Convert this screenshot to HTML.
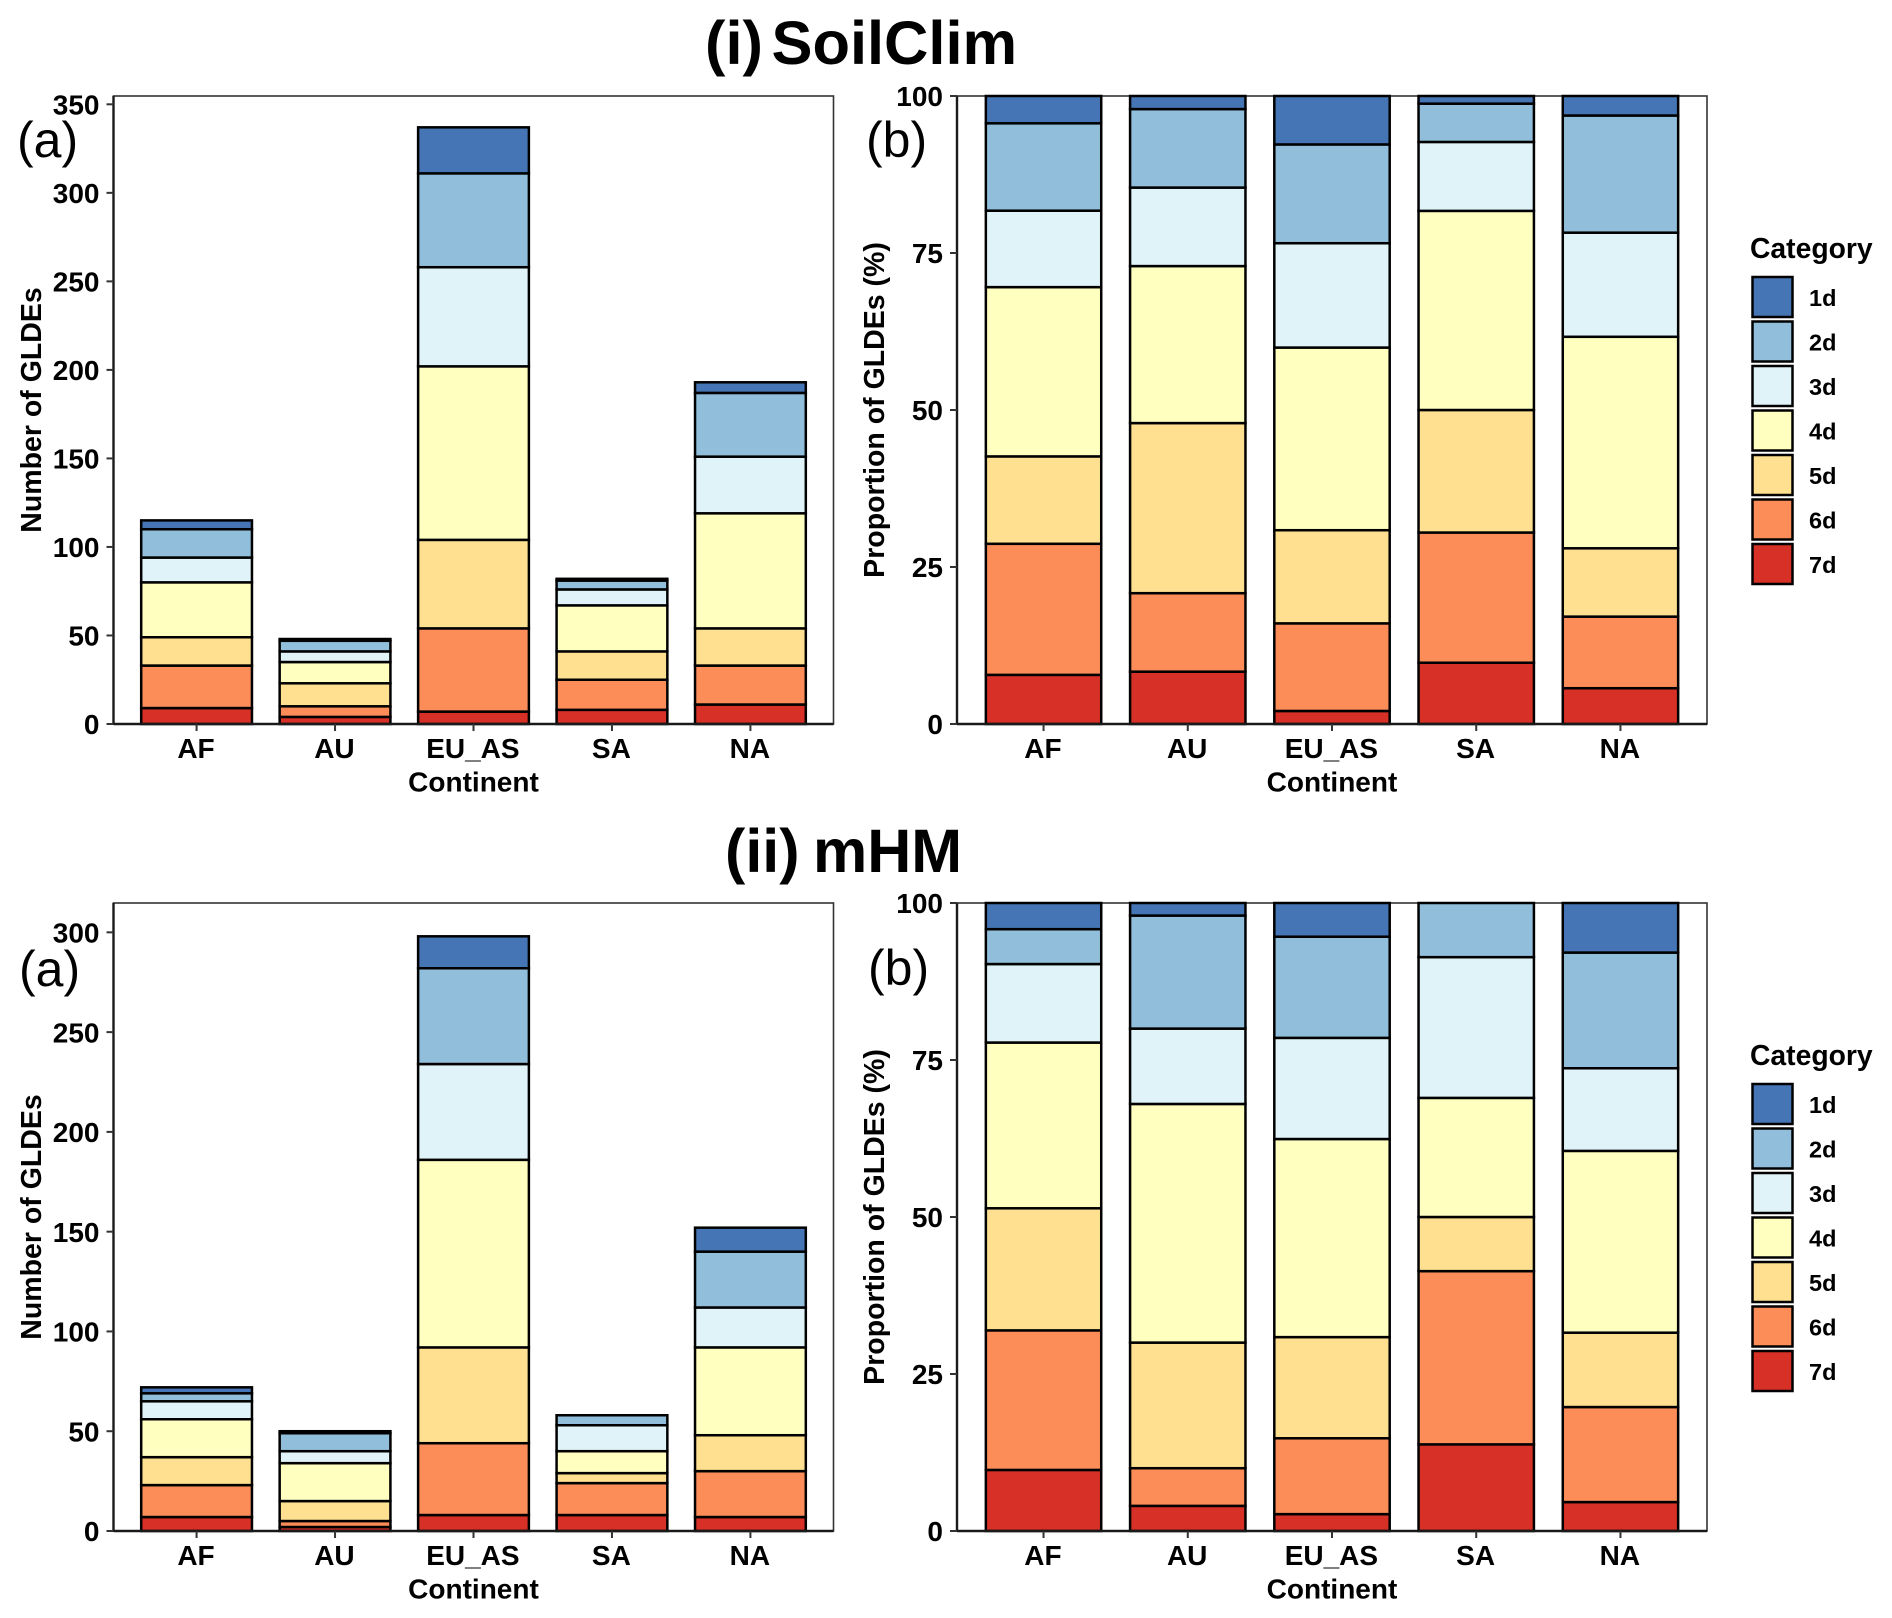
<!DOCTYPE html>
<html lang="en">
<head>
<meta charset="utf-8">
<title>GLDE counts and proportions by continent: SoilClim and mHM</title>
<style>
  html, body { margin: 0; padding: 0; background: #fff; }
  svg { display: block; }
  text { font-family: "Liberation Sans", Arial, sans-serif; fill: #000; }
</style>
</head>
<body>
<svg id="figure" xmlns="http://www.w3.org/2000/svg" width="1892" height="1618" viewBox="0 0 1892 1618">
  <rect x="0" y="0" width="1892" height="1618" fill="#fff"/>
  <text y="64" font-size="61.4" font-weight="700"><tspan x="705">(i)</tspan><tspan x="771.5">SoilClim</tspan></text>
  <text y="872" font-size="61" font-weight="700"><tspan x="725">(ii)</tspan><tspan x="813">mHM</tspan></text>
</svg>
<script>
// ---- Data ----
const continents = ['AF', 'AU', 'EU_AS', 'SA', 'NA'];
const categoryLabels = ['1d', '2d', '3d', '4d', '5d', '6d', '7d'];

// SoilClim counts per continent (AF, AU, EU_AS, SA, NA)
const soil1d = [5, 1, 26, 1, 6];
const soil2d = [16, 6, 53, 5, 36];
const soil3d = [14, 6, 56, 9, 32];
const soil4d = [31, 12, 98, 26, 65];
const soil5d = [16, 13, 50, 16, 21];
const soil6d = [24, 6, 47, 17, 22];
const soil7d = [9, 4, 7, 8, 11];

// mHM counts per continent (AF, AU, EU_AS, SA, NA)
const mhm1d = [3, 1, 16, 0, 12];
const mhm2d = [4, 9, 48, 5, 28];
const mhm3d = [9, 6, 48, 13, 20];
const mhm4d = [19, 19, 94, 11, 44];
const mhm5d = [14, 10, 48, 5, 18];
const mhm6d = [16, 3, 36, 16, 23];
const mhm7d = [7, 2, 8, 8, 7];

const soilCountTicks = [0, 50, 100, 150, 200, 250, 300, 350];
const mhmCountTicks = [0, 50, 100, 150, 200, 250, 300];
const percentTicks = [0, 25, 50, 75, 100];

// ---- Styling ----
const palette = ['#4575b4', '#91bfdb', '#e0f3f8', '#ffffbf', '#fee090', '#fc8d59', '#d73027'];
const NS = 'http://www.w3.org/2000/svg';
const figure = document.getElementById('figure');

function make(parent, tag, attrs, content) {
  const el = document.createElementNS(NS, tag);
  for (const k in attrs) el.setAttribute(k, attrs[k]);
  if (content !== undefined) el.textContent = content;
  parent.appendChild(el);
  return el;
}

function drawPanel(cfg) {
  const g = make(figure, 'g', {});
  
  

  const width = cfg.right - cfg.left;
  const xUnits = continents.length - 1 + 1.2;
  const xCenter = function (i) { return cfg.left + (i + 0.6) / xUnits * width; };
  const bandWidth = 0.8 / xUnits * width;
  const yPos = function (v) { return cfg.bottom - v / cfg.domainMax * (cfg.bottom - cfg.top); };

  const frame = make(g, 'rect', { x: cfg.left, y: cfg.top, width: width, height: cfg.bottom - cfg.top, fill: '#fff', stroke: '#333', 'stroke-width': 1.6 });
  
  

  continents.forEach(function (continent, i) {
    let total = 0;
    cfg.series.forEach(function (s) { total += s[i]; });
    const factor = cfg.percent ? 100 / total : 1;
    let running = 0;
    for (let c = cfg.series.length - 1; c >= 0; c--) {
      const value = cfg.series[c][i] * factor;
      if (value <= 0) continue;
      const y1 = yPos(running + value);
      const y0 = yPos(running);
      const bar = make(g, 'rect', {
        x: xCenter(i) - bandWidth / 2, y: y1, width: bandWidth, height: y0 - y1,
        fill: palette[c], stroke: '#000', 'stroke-width': 2.5
      });
      
      
      running += value;
    }
  });

  const yAxisLine = make(g, 'line', { x1: cfg.left, x2: cfg.left, y1: cfg.top, y2: cfg.bottom + 1, stroke: '#1a1a1a', 'stroke-width': 2.4 });
  
  

  const xAxisLine = make(g, 'line', { x1: cfg.left, x2: cfg.right, y1: cfg.bottom, y2: cfg.bottom, stroke: '#1a1a1a', 'stroke-width': 2.4 });
  
  

  cfg.ticks.forEach(function (t) {
    const y = yPos(t);
    const tick = make(g, 'line', { x1: cfg.left - 7, x2: cfg.left, y1: y, y2: y, stroke: '#333', 'stroke-width': 2 });
    
    
    const label = make(g, 'text', { x: cfg.left - 14, y: y + 10.2, 'font-size': 28, 'font-weight': 700, 'text-anchor': 'end' }, String(t));
    
    
  });

  continents.forEach(function (continent, i) {
    const x = xCenter(i);
    const tick = make(g, 'line', { x1: x, x2: x, y1: cfg.bottom, y2: cfg.bottom + 7, stroke: '#333', 'stroke-width': 2 });
    
    
    const label = make(g, 'text', { x: x - 0.6, y: cfg.bottom + 34, 'font-size': 28, 'font-weight': 700, 'text-anchor': 'middle' }, continent);
    
    
  });

  const xTitle = make(g, 'text', { x: (cfg.left + cfg.right) / 2, y: cfg.bottom + 67.5, 'font-size': 28, 'font-weight': 700, 'text-anchor': 'middle' }, 'Continent');
  
  

  const cy = (cfg.top + cfg.bottom) / 2 + cfg.titleShift;
  const yTitle = make(g, 'text', { x: 0, y: 0, transform: 'translate(' + cfg.titleX + ',' + cy + ') rotate(-90)', 'font-size': 28.5, 'font-weight': 700, 'text-anchor': 'middle' }, cfg.yTitle);
  
  

  const tag = make(g, 'text', { x: cfg.tagX, y: cfg.tagY, 'font-size': 50 }, cfg.tag);
  
  
}

function drawLegend(name, offsetY) {
  const g = make(figure, 'g', {});
  
  

  const title = make(g, 'text', { x: 1750, y: 258 + offsetY, 'font-size': 28.3, 'font-weight': 700 }, 'Category');
  
  

  categoryLabels.forEach(function (label, i) {
    const keyTop = 277 + offsetY + i * 44.5;
    const key = make(g, 'rect', { x: 1752.5, y: keyTop, width: 40, height: 40, fill: palette[i], stroke: '#000', 'stroke-width': 2.5 });
    
    
    const text = make(g, 'text', { x: 1809, y: keyTop + 29, 'font-size': 23.5, 'font-weight': 700 }, label);
    
    
  });
}

const soilSeries = [soil1d, soil2d, soil3d, soil4d, soil5d, soil6d, soil7d];
const mhmSeries = [mhm1d, mhm2d, mhm3d, mhm4d, mhm5d, mhm6d, mhm7d];

drawPanel({ name: 'soilclim-count-panel', left: 113.5, right: 833.5, top: 96, bottom: 724, domainMax: 354.7, percent: false, series: soilSeries, ticks: soilCountTicks, yTitle: 'Number of GLDEs', titleX: 41, titleShift: 0, tag: '(a)', tagX: 17, tagY: 157 });
drawPanel({ name: 'soilclim-proportion-panel', left: 957, right: 1707, top: 96, bottom: 724, domainMax: 100, percent: true, series: soilSeries, ticks: percentTicks, yTitle: 'Proportion of GLDEs (%)', titleX: 884, titleShift: 0, tag: '(b)', tagX: 866, tagY: 157 });
drawPanel({ name: 'mhm-count-panel', left: 113.5, right: 833.5, top: 903, bottom: 1531, domainMax: 314.7, percent: false, series: mhmSeries, ticks: mhmCountTicks, yTitle: 'Number of GLDEs', titleX: 41, titleShift: 0, tag: '(a)', tagX: 19, tagY: 986 });
drawPanel({ name: 'mhm-proportion-panel', left: 957, right: 1707, top: 903, bottom: 1531, domainMax: 100, percent: true, series: mhmSeries, ticks: percentTicks, yTitle: 'Proportion of GLDEs (%)', titleX: 884, titleShift: 0, tag: '(b)', tagX: 868, tagY: 985 });

drawLegend('soilclim-legend', 0);
drawLegend('mhm-legend', 807);
</script>
</body>
</html>
